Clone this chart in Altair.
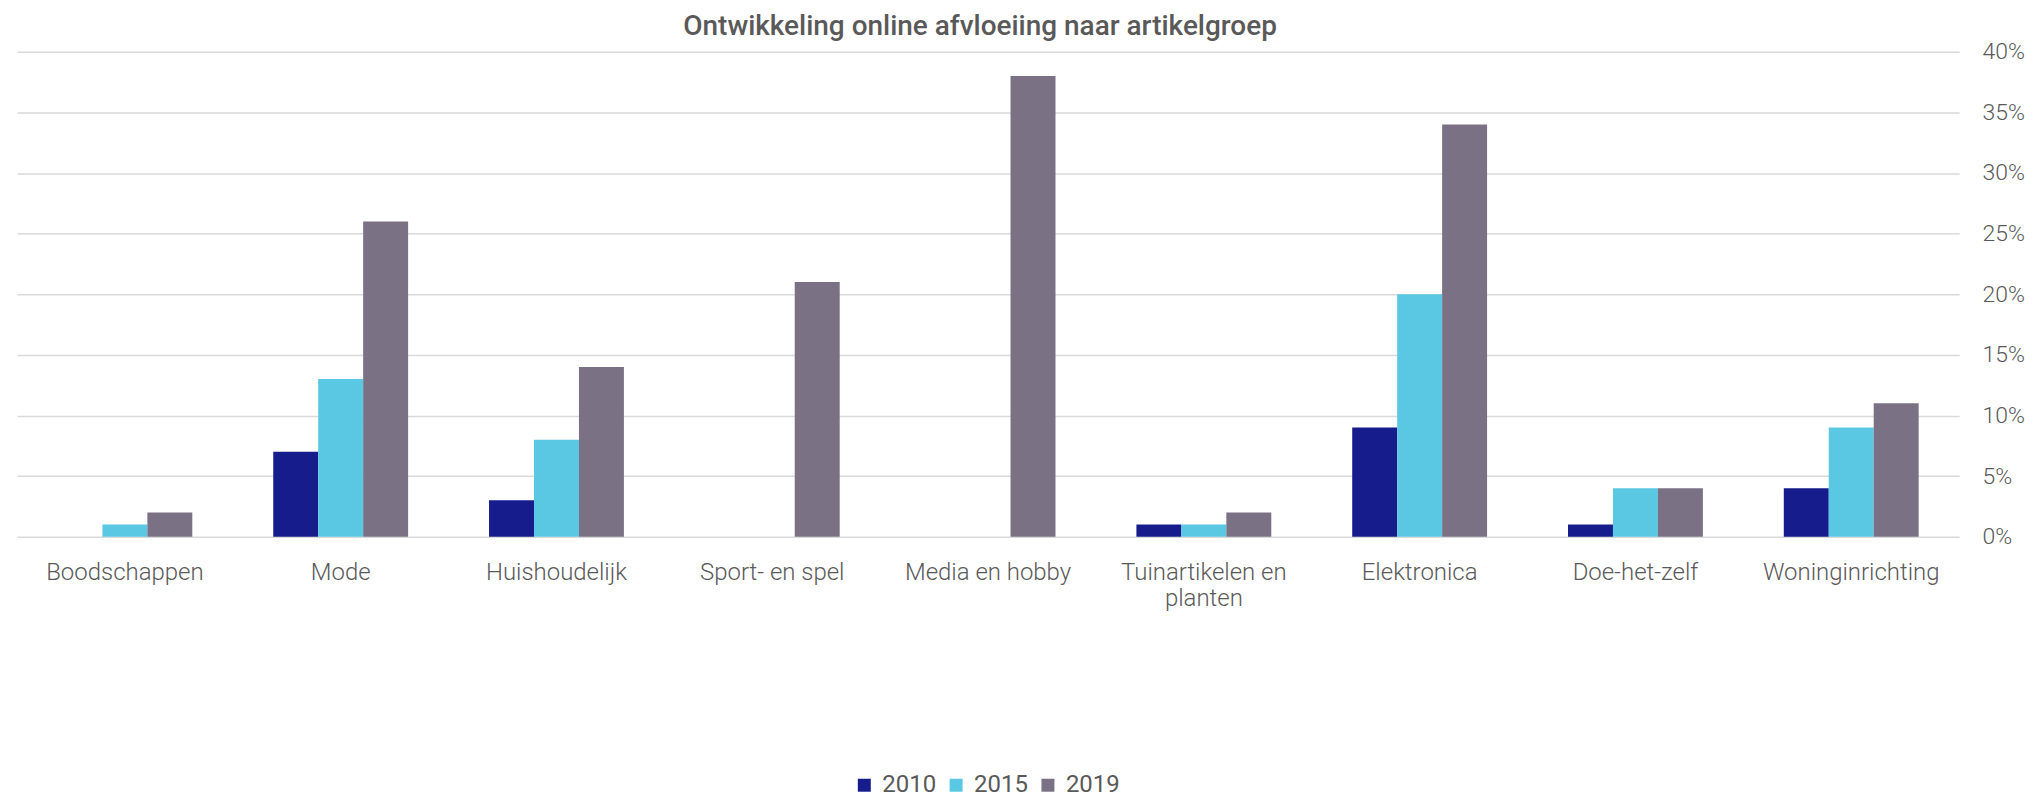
import altair as alt
import pandas as pd

categories = ["Boodschappen", "Mode", "Huishoudelijk", "Sport- en spel", "Media en hobby",
              "Tuinartikelen en planten", "Elektronica", "Doe-het-zelf", "Woninginrichting"]
years = ["2010", "2015", "2019"]
v2010 = [0, 7, 3, 0, 0, 1, 9, 1, 4]
v2015 = [1, 13, 8, 0, 0, 1, 20, 4, 9]
v2019 = [2, 26, 14, 21, 38, 2, 34, 4, 11]
colors = ["#161C8B", "#5AC8E3", "#7A7184"]
y_ticks = [0, 5, 10, 15, 20, 25, 30, 35, 40]

rows = []
for yr, vals in zip(years, [v2010, v2015, v2019]):
    for c, v in zip(categories, vals):
        rows.append({"cat": c, "year": yr, "value": v})
df = pd.DataFrame(rows)

TXT = "#595959"

chart = alt.Chart(df).mark_bar().encode(
    x=alt.X("cat:N", sort=categories, title=None,
            scale=alt.Scale(paddingInner=0.375, paddingOuter=0.1875),
            axis=alt.Axis(domain=False, ticks=False, labelAngle=0, labelFont="Roboto",
                          labelFontWeight=300, labelFontSize=24, labelColor=TXT,
                          labelPadding=24, labelLimit=0, labelOverlap=False,
                          labelLineHeight=26,
                          labelExpr="datum.label == 'Tuinartikelen en planten' ? ['Tuinartikelen en', 'planten'] : datum.label")),
    xOffset=alt.XOffset("year:N", sort=years, scale=alt.Scale(paddingInner=0, paddingOuter=0)),
    y=alt.Y("value:Q", title=None,
            scale=alt.Scale(domain=[0, 40], nice=False),
            axis=alt.Axis(orient="right", values=y_ticks, domain=False, ticks=False,
                          labelFont="Roboto", labelFontWeight=300, labelFontSize=23,
                          labelColor=TXT, labelPadding=23,
                          labelExpr="datum.value + '%'",
                          gridColor="#D9D9D9", gridWidth=1.5)),
    color=alt.Color("year:N", sort=years,
                    scale=alt.Scale(domain=years, range=colors),
                    legend=alt.Legend(orient="none", legendX=837, legendY=723,
                                      direction="horizontal", title=None,
                                      symbolType="square", symbolSize=169,
                                      symbolStrokeWidth=0, labelFont="Roboto",
                                      labelFontSize=24, labelColor=TXT,
                                      labelOffset=6, columnPadding=8, padding=0)),
).properties(
    width=1946,
    height=486,
    padding={"left": 9, "top": 4, "right": 0, "bottom": 0},
    title=alt.TitleParams("Ontwikkeling online afvloeiing naar artikelgroep",
                          font="Roboto", fontSize=28, fontWeight=500, color=TXT,
                          anchor="middle", frame="group", dx=-8, offset=0),
).configure_view(stroke=None)

chart.save("out.html", embed_options={"renderer": "svg", "actions": False})
